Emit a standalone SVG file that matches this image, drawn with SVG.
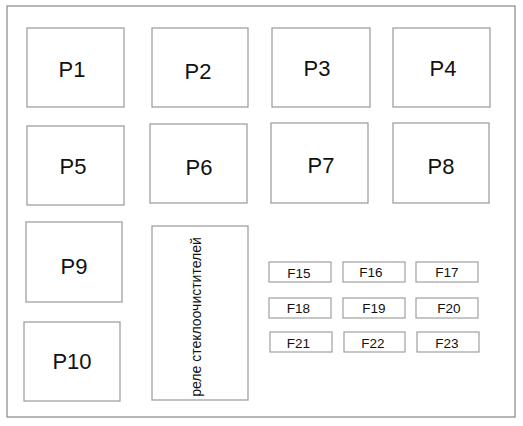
<svg xmlns="http://www.w3.org/2000/svg" width="523" height="426" viewBox="0 0 523 426">
<style>
.b{fill:#fff;stroke:#a0a0a0;stroke-width:1.3}
.f{fill:#fff;stroke:#a0a0a0;stroke-width:1.2}
.frame{fill:#fff;stroke:#909090;stroke-width:1.3}
.t{font-family:"Liberation Sans",Arial,sans-serif;font-size:22px;fill:#111;text-anchor:middle}
.s{font-family:"Liberation Sans",Arial,sans-serif;font-size:13.5px;fill:#111;text-anchor:middle}
.r{font-family:"Liberation Sans",Arial,sans-serif;font-size:14px;fill:#111;text-anchor:middle}
</style>
<rect width="523" height="426" fill="#fff"/>
<rect class="frame" x="7" y="6" width="508" height="411"/>
<g id="P1"><rect class="b" x="27" y="28" width="97" height="79"/><text class="t" x="72" y="77">P1</text></g>
<g id="P2"><rect class="b" x="152" y="28" width="96" height="79"/><text class="t" x="198" y="79">P2</text></g>
<g id="P3"><rect class="b" x="272" y="28" width="98" height="79"/><text class="t" x="317" y="76">P3</text></g>
<g id="P4"><rect class="b" x="393" y="28" width="97" height="79"/><text class="t" x="443" y="76">P4</text></g>
<g id="P5"><rect class="b" x="27" y="126" width="97" height="79"/><text class="t" x="73" y="174">P5</text></g>
<g id="P6"><rect class="b" x="150" y="124" width="97" height="79"/><text class="t" x="199" y="175">P6</text></g>
<g id="P7"><rect class="b" x="271" y="123" width="97" height="80"/><text class="t" x="321" y="173">P7</text></g>
<g id="P8"><rect class="b" x="393" y="123" width="96" height="80"/><text class="t" x="441" y="174">P8</text></g>
<g id="P9"><rect class="b" x="26" y="222" width="96" height="80"/><text class="t" x="74" y="274">P9</text></g>
<g id="P10"><rect class="b" x="24" y="322" width="96" height="79"/><text class="t" x="72" y="369">P10</text></g>
<g id="relay"><rect class="b" x="152" y="226" width="96" height="174"/><text class="r" transform="translate(201,317) rotate(-90)">реле стеклоочистителей</text></g>
<g id="F15"><rect class="f" x="269" y="262" width="62" height="20"/><text class="s" x="299" y="278">F15</text></g>
<g id="F16"><rect class="f" x="343" y="262" width="62" height="20"/><text class="s" x="371" y="277">F16</text></g>
<g id="F17"><rect class="f" x="416" y="262" width="62" height="20"/><text class="s" x="447" y="277">F17</text></g>
<g id="F18"><rect class="f" x="269" y="298" width="62" height="20"/><text class="s" x="298.5" y="313">F18</text></g>
<g id="F19"><rect class="f" x="343" y="298" width="62" height="20"/><text class="s" x="374" y="313">F19</text></g>
<g id="F20"><rect class="f" x="416" y="298" width="62" height="20"/><text class="s" x="449" y="313">F20</text></g>
<g id="F21"><rect class="f" x="270" y="332" width="62" height="20"/><text class="s" x="298.5" y="348">F21</text></g>
<g id="F22"><rect class="f" x="344" y="332" width="61" height="20"/><text class="s" x="373" y="348">F22</text></g>
<g id="F23"><rect class="f" x="417" y="332" width="62" height="20"/><text class="s" x="447" y="348">F23</text></g>
<g id="connectors"></g>
</svg>
